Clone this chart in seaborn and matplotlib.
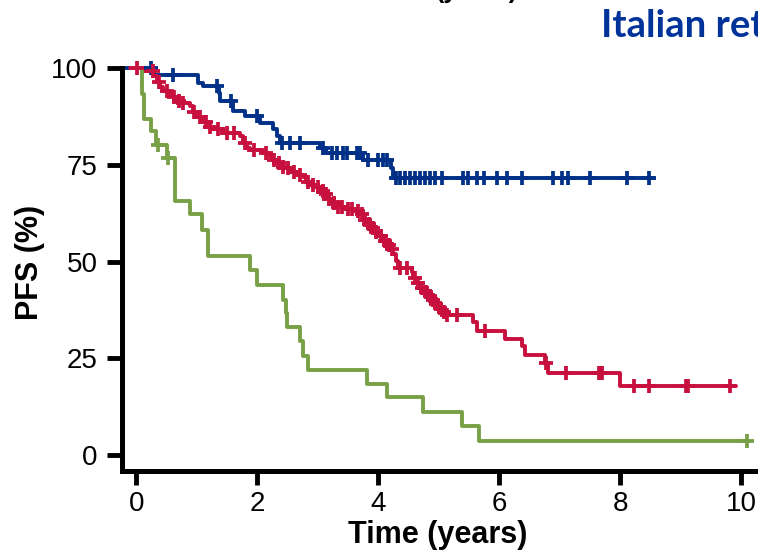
import numpy as np
import pandas as pd
import matplotlib
matplotlib.use("Agg")
import matplotlib.pyplot as plt
import seaborn as sns

# ---- data (time in years, PFS in %) ----
blue_t = [-0.18, 0.29, 1.02, 1.10, 1.36, 1.38, 1.60, 1.80, 2.04, 2.26, 2.32, 2.38,
          3.04, 3.14, 3.75, 4.21, 4.25, 8.55]
blue_s = [100, 98.3, 96.3, 95.5, 93.7, 91.5, 88.9, 87.6, 85.9, 84.2, 82.5, 80.7,
          79.5, 78.2, 76.4, 74.3, 71.7, 71.7]
blue_cens = [0.25, 0.61, 1.33, 1.57, 1.99, 2.41, 2.54, 2.70, 3.08, 3.23, 3.31, 3.42,
             3.48, 3.64, 3.70, 3.83, 4.00, 4.08, 4.14, 4.30, 4.36, 4.44, 4.52, 4.61,
             4.69, 4.77, 4.85, 4.94, 5.05, 5.40, 5.49, 5.63, 5.74, 5.96, 6.12, 6.37,
             6.89, 7.03, 7.14, 7.50, 8.11, 8.48]

red_t = [-0.10, 0.11, 0.28, 0.34, 0.39, 0.44, 0.56, 0.61, 0.66, 0.72, 0.89, 0.94,
         1.00, 1.10, 1.17, 1.27, 1.43, 1.71, 1.76, 1.83, 1.88, 2.09, 2.18, 2.24,
         2.33, 2.38, 2.44, 2.54, 2.65, 2.75, 2.80, 2.87, 2.95, 3.04, 3.10, 3.15,
         3.22, 3.30, 3.45, 3.61, 3.70, 3.75, 3.81, 3.88, 3.94, 4.01, 4.07, 4.14,
         4.21, 4.25, 4.29, 4.32, 4.56, 4.57, 4.62, 4.69, 4.75, 4.82, 4.88, 4.93,
         4.98, 5.05, 5.10, 5.56, 5.63, 6.09, 6.37, 6.42, 6.75, 6.81, 8.00, 9.92]
red_s = [100, 99.3, 98.0, 96.4, 95.1, 94.1, 93.3, 92.5, 91.5, 91.1, 90.2, 88.6,
         87.3, 86.0, 84.7, 84.2, 83.2, 82.4, 80.8, 79.5, 79.0, 78.0, 77.2, 76.2,
         75.4, 74.6, 74.1, 73.3, 72.5, 71.8, 70.7, 69.9, 69.2, 68.4, 67.4, 66.3,
         65.3, 64.2, 63.7, 63.2, 62.2, 60.9, 59.8, 58.8, 57.8, 56.7, 55.4, 54.4,
         53.4, 52.0, 50.2, 48.4, 47.2, 45.9, 44.6, 43.3, 42.2, 41.2, 40.2, 39.1,
         38.1, 37.0, 36.3, 34.3, 32.1, 30.0, 28.1, 25.9, 23.8, 21.2, 17.9, 17.9]
red_cens = [0.02, 0.27, 0.38, 0.50, 0.63, 0.70, 0.78, 0.95, 1.05, 1.15, 1.22, 1.35,
            1.50, 1.62, 1.79, 1.95, 2.15, 2.28, 2.36, 2.42, 2.50, 2.60, 2.70, 2.84,
            2.92, 3.00, 3.08, 3.13, 3.19, 3.26, 3.34, 3.40, 3.50, 3.56, 3.66, 3.73,
            3.78, 3.85, 3.91, 3.97, 4.04, 4.11, 4.18, 4.23, 4.36, 4.48, 4.60, 4.66,
            4.72, 4.79, 4.85, 4.91, 4.96, 5.02, 5.08, 5.13, 5.30, 5.76, 6.78, 7.11,
            7.64, 7.69, 8.23, 8.48, 9.08, 9.12, 9.81]

green_t = [-0.05, 0.09, 0.13, 0.25, 0.33, 0.50, 0.64, 0.89, 1.08, 1.19, 1.88, 1.99,
           2.43, 2.47, 2.49, 2.71, 2.76, 2.84, 3.81, 4.15, 4.74, 5.39, 5.67, 10.13]
green_s = [100, 93.3, 86.8, 83.8, 80.3, 76.9, 65.6, 62.2, 58.3, 51.4, 47.9, 44.0,
           40.2, 36.8, 33.2, 29.4, 25.5, 22.0, 18.4, 14.9, 11.2, 7.5, 3.7, 3.7]
green_cens = [0.36, 0.53, 10.09]

x_ticks = [0, 2, 4, 6, 8, 10]
y_ticks = [0, 25, 50, 75, 100]

BLUE = "#003087"
RED = "#C8103E"
GREEN = "#78A046"

sns.set_theme(style="ticks")
plt.rcParams["font.family"] = ["Liberation Sans", "DejaVu Sans"]

fig = plt.figure(figsize=(7.58, 5.51), dpi=100)
ax = fig.add_axes([0.1616, 0.1443, 0.8563, 0.7317])


def step_value(ts, ss, c):
    i = np.searchsorted(ts, c, side="right") - 1
    return ss[max(i, 0)]


for ts, ss, cens, col in [(blue_t, blue_s, blue_cens, BLUE),
                          (red_t, red_s, red_cens, RED),
                          (green_t, green_s, green_cens, GREEN)]:
    df = pd.DataFrame({"t": ts, "s": ss})
    sns.lineplot(data=df, x="t", y="s", drawstyle="steps-post", color=col,
                 lw=2.8, estimator=None, sort=False, ax=ax, clip_on=False,
                 legend=False)
    cdf = pd.DataFrame({"t": cens, "s": [step_value(ts, ss, c) for c in cens]})
    sns.scatterplot(data=cdf, x="t", y="s", marker="+", s=100, color=col,
                    linewidth=2.7, ax=ax, clip_on=False, legend=False, zorder=3)

ax.set_xlim(-0.228, 10.5)
ax.set_ylim(-4.26, 100)
ax.set_xticks(x_ticks)
ax.set_yticks(y_ticks)
ax.set_xticklabels([str(v) for v in x_ticks])
ax.set_yticklabels([str(v) for v in y_ticks])
ax.set_xlabel("")
ax.set_ylabel("")

for side in ["top", "right"]:
    ax.spines[side].set_visible(False)
for side in ["left", "bottom"]:
    ax.spines[side].set_linewidth(3.6)
    ax.spines[side].set_color("black")

ax.tick_params(axis="y", length=11, width=3.5, pad=7, labelsize=20, colors="black")
ax.tick_params(axis="x", length=10, width=3.5, pad=4, labelsize=20, colors="black")

W, H = 758, 551
fig.text(437.5 / W, 1 - 535 / H, "Time (years)", ha="center", va="center",
         fontsize=22, fontweight="bold", color="black")
fig.text(30 / W, 1 - 262 / H, "PFS (%)", ha="center", va="center", rotation=90,
         fontsize=22, fontweight="bold", color="black")
fig.text(477 / W, 1 + 2 / H, "(years)", ha="center", va="baseline",
         fontsize=18, fontweight="bold", color="black")
fig.text(601 / W, 1 - 37 / H, "Italian retrospective", ha="left", va="baseline",
         fontsize=27.5, fontweight="bold", color="#00339A", family=["Lato", "DejaVu Sans"])

fig.savefig("out.png", dpi=100)
